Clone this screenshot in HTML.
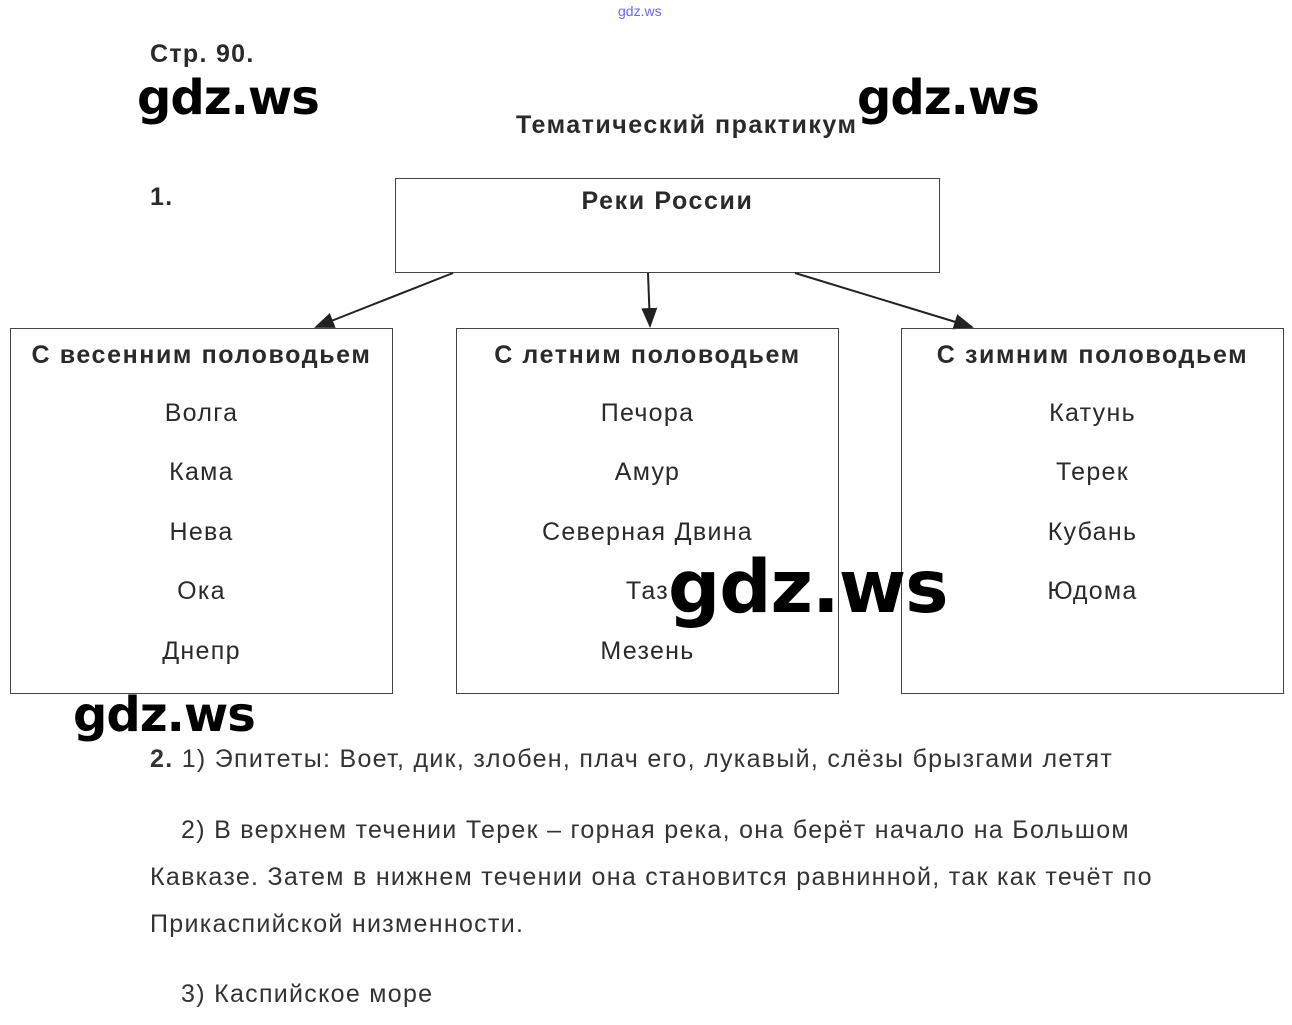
<!DOCTYPE html>
<html><head><meta charset="utf-8"><style>
body{margin:0;width:1292px;height:1025px;background:#fff;position:relative;overflow:hidden;font-family:"Liberation Sans",sans-serif;color:#2a2a2a;letter-spacing:1.3px}
.a{position:absolute;white-space:nowrap}
.box{position:absolute;border:1.5px solid #444;box-sizing:border-box}
.h{font-weight:bold;font-size:25px;letter-spacing:1.6px}
.r{position:absolute;width:100%;text-align:center;font-size:25px}
.w{position:absolute;font-weight:bold;color:#000;font-family:"DejaVu Sans","Liberation Sans",sans-serif;letter-spacing:-1px}
.t{font-size:25px;color:#333}
</style></head><body>
<div class="a" style="left:618px;top:3px;font-size:14px;color:#66f;letter-spacing:0">gdz.ws</div>
<div class="a" style="left:150px;top:40px;font-size:25px;font-weight:bold">Стр. 90.</div>
<div class="a" style="left:516px;top:111px;font-size:25px;font-weight:bold;letter-spacing:1.5px">Тематический практикум</div>
<div class="a" style="left:150px;top:183px;font-size:25px;font-weight:bold">1.</div>
<div class="box" style="left:395px;top:178px;width:545px;height:95px"><div class="r h" style="top:8px">Реки России</div></div>
<svg class="a" style="left:0;top:0" width="1292" height="1025">
<defs><marker id="m" markerWidth="10" markerHeight="10" refX="9" refY="5" orient="auto"><path d="M0,1 L10,5 L0,9z" fill="#222"/></marker></defs>
<g stroke="#222" stroke-width="2" fill="none" marker-end="url(#m)">
<line x1="453" y1="273" x2="316" y2="327"/>
<line x1="648" y1="273" x2="650" y2="326"/>
<line x1="795" y1="273" x2="972" y2="327"/>
</g></svg>
<div class="box" style="left:10px;top:328px;width:383px;height:366px">
<div class="r h" style="top:12px">С весенним половодьем</div>
<div class="r" style="top:70px">Волга</div><div class="r" style="top:129px">Кама</div><div class="r" style="top:189px">Нева</div><div class="r" style="top:248px">Ока</div><div class="r" style="top:308px">Днепр</div></div>
<div class="box" style="left:456px;top:328px;width:383px;height:366px">
<div class="r h" style="top:12px">С летним половодьем</div>
<div class="r" style="top:70px">Печора</div><div class="r" style="top:129px">Амур</div><div class="r" style="top:189px">Северная Двина</div><div class="r" style="top:248px">Таз</div><div class="r" style="top:308px">Мезень</div></div>
<div class="box" style="left:901px;top:328px;width:383px;height:366px">
<div class="r h" style="top:12px">С зимним половодьем</div>
<div class="r" style="top:70px">Катунь</div><div class="r" style="top:129px">Терек</div><div class="r" style="top:189px">Кубань</div><div class="r" style="top:248px">Юдома</div></div>
<div class="a t" style="left:150px;top:745px"><b>2.</b> 1) Эпитеты: Воет, дик, злобен, плач его, лукавый, слёзы брызгами летят</div>
<div class="a t" style="left:181px;top:816px">2) В верхнем течении Терек – горная река, она берёт начало на Большом</div>
<div class="a t" style="left:150px;top:863px">Кавказе. Затем в нижнем течении она становится равнинной, так как течёт по</div>
<div class="a t" style="left:150px;top:910px">Прикаспийской низменности.</div>
<div class="a t" style="left:181px;top:980px">3) Каспийское море</div>
<div class="w" style="left:137px;top:70px;font-size:48px">gdz.ws</div>
<div class="w" style="left:857px;top:70px;font-size:48px">gdz.ws</div>
<div class="w" style="left:668px;top:545px;font-size:73px">gdz.ws</div>
<div class="w" style="left:73px;top:687px;font-size:48px">gdz.ws</div>
</body></html>
